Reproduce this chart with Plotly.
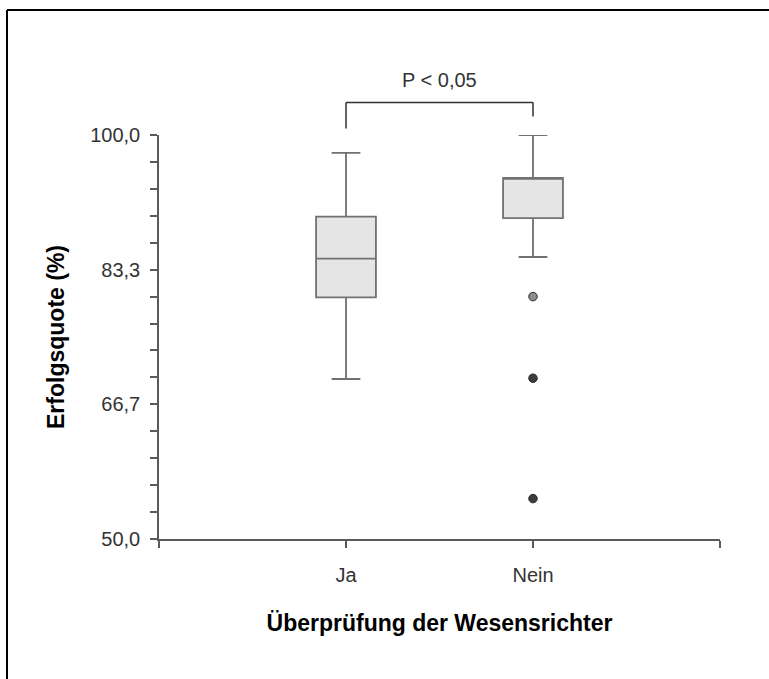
import plotly.graph_objects as go

# Group labels and box statistics (Erfolgsquote in %)
groups = ["Ja", "Nein"]
group_pos = [0, 1]
q1 = [79.9, 89.7]
median = [84.7, 94.7]
q3 = [89.9, 94.7]
lower_whisker = [69.8, 84.9]
upper_whisker = [97.8, 100.0]

# Outliers of the "Nein" group
outlier_pos = [1, 1, 1]
outlier_vals = [80.0, 69.9, 55.0]
outlier_colors = ["#8c8c8c", "#3c3c3c", "#3c3c3c"]

# Y ticks: every 1/15 of the range, labelled every fifth
y_tickvals = [50 + i * 50 / 15 for i in range(16)]
y_ticktext = ["50,0", "", "", "", "", "66,7", "", "", "", "", "83,3", "", "", "", "", "100,0"]

significance_text = "P < 0,05"

FONT = "Arial, Liberation Sans, sans-serif"
AXIS_COLOR = "#5a5a5a"

fig = go.Figure()

fig.add_trace(go.Box(
    x=group_pos,
    q1=q1,
    median=median,
    q3=q3,
    lowerfence=lower_whisker,
    upperfence=upper_whisker,
    boxpoints=False,
    width=0.32,
    whiskerwidth=0.48,
    fillcolor="#e5e5e5",
    line=dict(color="#717171", width=1.8),
    showlegend=False,
    hoverinfo="skip",
))

fig.add_trace(go.Scatter(
    x=outlier_pos,
    y=outlier_vals,
    mode="markers",
    marker=dict(size=8.5, color=outlier_colors, line=dict(color="#2a2a2a", width=1)),
    showlegend=False,
    hoverinfo="skip",
))

W, H = 769, 679
L, R, T, B = 159, 49, 135, 140
pw, ph = W - L - R, H - T - B


def px_x(p):
    return (p - L) / pw


def px_y(p):
    return (H - B - p) / ph


shapes = []
# Frame around the figure (top and left edges visible)
shapes.append(dict(type="line", xref="paper", yref="paper",
                   x0=px_x(7), x1=px_x(780), y0=px_y(10), y1=px_y(10),
                   line=dict(color="black", width=2)))
shapes.append(dict(type="line", xref="paper", yref="paper",
                   x0=px_x(7), x1=px_x(7), y0=px_y(10), y1=px_y(700),
                   line=dict(color="black", width=2)))

# Significance bracket between the two groups
bracket_top = px_y(102.5)
shapes.append(dict(type="line", xref="x", yref="paper",
                   x0=group_pos[0], x1=group_pos[0], y0=px_y(128.5), y1=bracket_top,
                   line=dict(color="#303030", width=1.5)))
shapes.append(dict(type="line", xref="x", yref="paper",
                   x0=group_pos[0], x1=group_pos[1], y0=bracket_top, y1=bracket_top,
                   line=dict(color="#303030", width=1.5)))
shapes.append(dict(type="line", xref="x", yref="paper",
                   x0=group_pos[1], x1=group_pos[1], y0=px_y(116.5), y1=bracket_top,
                   line=dict(color="#303030", width=1.5)))

fig.update_layout(
    width=W, height=H,
    margin=dict(l=L, r=R, t=T, b=B, autoexpand=False),
    paper_bgcolor="white",
    plot_bgcolor="white",
    font=dict(family=FONT, color="#333333"),
    shapes=shapes,
    annotations=[dict(
        x=0.5, xref="x", y=px_y(80), yref="paper",
        text=significance_text, showarrow=False,
        font=dict(family=FONT, size=20, color="#333333"),
        xanchor="center", yanchor="middle",
    )],
)

fig.update_xaxes(
    range=[-1, 2],
    tickvals=[-1, 0, 1, 2],
    ticktext=["", groups[0], groups[1], ""],
    ticks="outside", ticklen=7, tickwidth=1.5, tickcolor=AXIS_COLOR,
    showline=True, linecolor=AXIS_COLOR, linewidth=1.5,
    showgrid=False, zeroline=False,
    tickfont=dict(family=FONT, size=20, color="#333333"),
    ticklabelstandoff=10,
    title=dict(text="<b>Überprüfung der Wesensrichter</b>",
               font=dict(family=FONT, size=23, color="black"), standoff=30),
)

fig.update_yaxes(
    range=[50, 100],
    tickvals=y_tickvals,
    ticktext=y_ticktext,
    ticks="outside", ticklen=7, tickwidth=1.5, tickcolor=AXIS_COLOR,
    showline=True, linecolor=AXIS_COLOR, linewidth=1.5,
    showgrid=False, zeroline=False,
    tickfont=dict(family=FONT, size=20, color="#333333"),
    ticklabelstandoff=6,
    title=dict(text="<b>Erfolgsquote (%)</b>",
               font=dict(family=FONT, size=23, color="black"), standoff=19),
)

fig.write_html("out.html")
